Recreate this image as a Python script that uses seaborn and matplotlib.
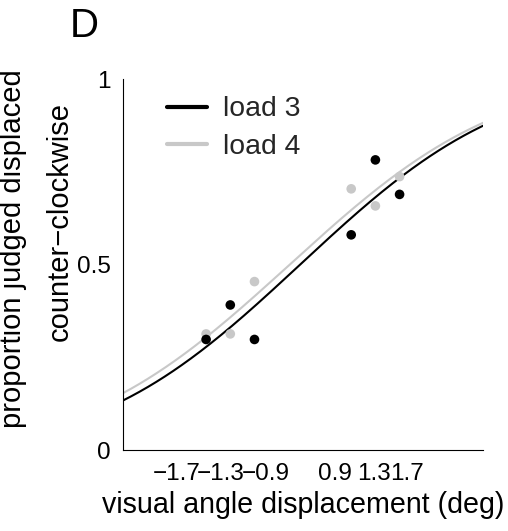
import math

import matplotlib
matplotlib.use("Agg")
import matplotlib.pyplot as plt
from matplotlib.transforms import ScaledTranslation
import numpy as np
import pandas as pd
import seaborn as sns

# Stimulus steps (signed displacement levels) and their tick labels in degrees
stim_steps = [-4, -3, -2, 2, 3, 4]
tick_labels = ["\u22121.7", "\u22121.3", "\u22120.9", "0.9", "1.3", "1.7"]

# Observed proportion of "counter-clockwise" responses
load3_prop = [0.298, 0.391, 0.298, 0.580, 0.782, 0.689]
load4_prop = [0.313, 0.313, 0.454, 0.704, 0.658, 0.737]

# Cumulative-Gaussian fits (mean, sd) in stimulus-step units
load3_fit = (-0.11, 6.60)
load4_fit = (-0.54, 6.745)

series_names = ["load 3", "load 4"]
series_colors = {"load 3": "#000000", "load 4": "#c8c8c8"}

# horizontal nudges (pixels) applied to each x tick label
label_nudge_px = [-29, -10, 11.5, -16, -1.5, 7.5]

x_range = (-7.45, 7.45)


def cum_gauss(x, mu, sd):
    z = (np.asarray(x) - mu) / (sd * math.sqrt(2.0))
    return 0.5 * (1.0 + np.vectorize(math.erf)(z))


x_fine = np.linspace(x_range[0], x_range[1], 301)
curves = pd.concat([
    pd.DataFrame({"x": x_fine, "p": cum_gauss(x_fine, *load3_fit), "load": "load 3"}),
    pd.DataFrame({"x": x_fine, "p": cum_gauss(x_fine, *load4_fit), "load": "load 4"}),
])
points = pd.concat([
    pd.DataFrame({"x": stim_steps, "p": load3_prop, "load": "load 3"}),
    pd.DataFrame({"x": stim_steps, "p": load4_prop, "load": "load 4"}),
])

sns.set_theme(style="white")
plt.rcParams["font.family"] = ["Liberation Sans", "DejaVu Sans"]

fig = plt.figure(figsize=(5.08, 5.31), dpi=100)
ax = fig.add_axes([0.2415, 0.1525, 0.7093, 0.6987])

# grey series underneath, black on top
for name in ["load 4", "load 3"]:
    sns.lineplot(data=curves[curves["load"] == name], x="x", y="p",
                 color=series_colors[name], linewidth=1.5, ax=ax,
                 label=name, legend=False)
for name in ["load 4", "load 3"]:
    sns.scatterplot(data=points[points["load"] == name], x="x", y="p",
                    color=series_colors[name], s=48, edgecolor="none",
                    linewidth=0, ax=ax, legend=False, zorder=3)

ax.set_xlim(*x_range)
ax.set_ylim(0, 1)
ax.set_xticks(stim_steps, tick_labels)
ax.set_yticks([0, 0.5, 1], ["0", "0.5", "1"])

for side in ["top", "right"]:
    ax.spines[side].set_visible(False)
for side in ["left", "bottom"]:
    ax.spines[side].set_color("black")
    ax.spines[side].set_linewidth(0.8)

ax.tick_params(axis="both", direction="in", length=2.9, width=0.6,
               color="black", labelsize=17.5, labelcolor="black")
ax.tick_params(axis="x", pad=9.5)
ax.tick_params(axis="y", pad=8.5)

ax.set_xlabel("visual angle displacement (deg)", fontsize=20.6, labelpad=4,
              color="black")
ax.set_ylabel("")

fig.text(21 / 508, 1 - 249 / 531, "proportion judged displaced",
         rotation=90, rotation_mode="anchor", ha="center", va="baseline",
         fontsize=21, color="black")
fig.text(68 / 508, 1 - 222 / 531, "counter\u2212clockwise",
         rotation=90, rotation_mode="anchor", ha="center", va="baseline",
         fontsize=21, color="black")

fig.text(70 / 508, 1 - 37 / 531, "D", fontsize=29, ha="left",
         va="baseline", color="black")

handles, labels = ax.get_legend_handles_labels()
order = [labels.index(n) for n in series_names]
leg = ax.legend([handles[i] for i in order], [labels[i] for i in order],
                loc="upper left", bbox_to_anchor=(0.123, 0.953),
                frameon=False, fontsize=20.4, handlelength=1.41,
                handletextpad=0.57, labelspacing=0.41, borderpad=0,
                borderaxespad=0)
for line in leg.get_lines():
    line.set_linewidth(3)

fig.canvas.draw()
for tick, dx in zip(ax.xaxis.get_major_ticks(), label_nudge_px):
    lab = tick.label1
    lab.set_transform(lab.get_transform()
                      + ScaledTranslation(dx / fig.dpi, 0, fig.dpi_scale_trans))

fig.savefig("out.png", dpi=100)
